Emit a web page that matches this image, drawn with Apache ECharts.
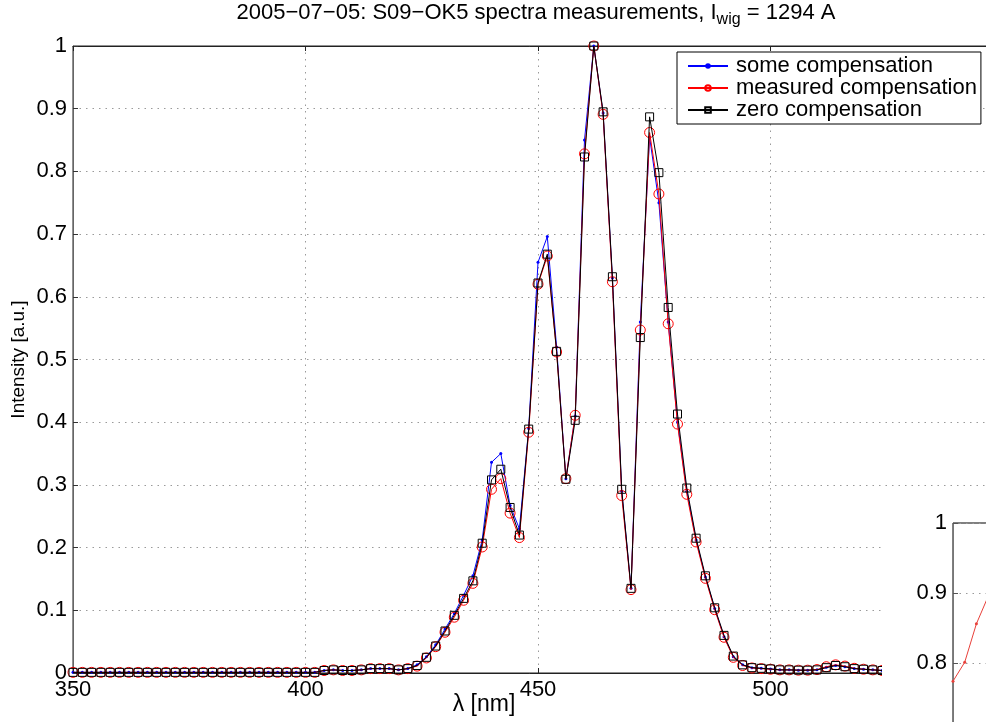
<!DOCTYPE html>
<html>
<head>
<meta charset="utf-8">
<script src="https://cdn.jsdelivr.net/npm/echarts@6/dist/echarts.min.js"></script>
<style>html,body{margin:0;padding:0;background:#fff}#c{width:986px;height:722px}</style>
</head>
<body>
<div id="c"></div>
<script>
const wavelengths = [350,352,354,356,358,360,362,364,366,368,370,372,374,376,378,380,382,384,386,388,390,392,394,396,398,400,402,
404,406,408,410,412,414,416,418,420,422,
424,426,428,430,432,434,436,438,440,442,
444,446,448,450,452,454,456,458,460,462,
464,466,468,470,472,474,476,478,480,482,
484,486,488,490,492,494,496,498,500,502,
504,506,508,510,512,514,516,518,520,522,524];

const someComp = [0.001,0.001,0.001,0.001,0.001,0.001,0.001,0.001,0.001,0.001,0.001,0.001,0.001,0.001,0.001,0.001,0.001,0.001,0.001,0.001,0.001,0.001,0.001,0.001,0.001,0.001,0.001,
0.004,0.005,0.004,0.004,0.005,0.007,0.007,0.007,0.005,0.007,
0.013,0.026,0.045,0.070,0.095,0.124,0.155,0.212,0.336,0.350,
0.267,0.230,0.390,0.655,0.696,0.520,0.310,0.410,0.850,1.000,
0.893,0.630,0.290,0.135,0.560,0.855,0.750,0.560,0.400,0.290,
0.212,0.153,0.103,0.058,0.026,0.013,0.0085,0.0075,0.0065,0.005,
0.005,0.0045,0.0045,0.005,0.009,0.012,0.010,0.007,0.006,0.005,0.004];

const measuredComp = [0.001,0.001,0.001,0.001,0.001,0.001,0.001,0.001,0.001,0.001,0.001,0.001,0.001,0.001,0.001,0.001,0.001,0.001,0.001,0.001,0.001,0.001,0.001,0.001,0.001,0.001,0.001,
0.004,0.005,0.004,0.004,0.005,0.007,0.007,0.007,0.005,0.007,
0.011,0.024,0.042,0.065,0.089,0.116,0.143,0.201,0.293,0.310,
0.255,0.216,0.384,0.620,0.665,0.512,0.310,0.411,0.828,1.000,
0.891,0.624,0.283,0.133,0.547,0.862,0.764,0.557,0.397,0.285,
0.209,0.151,0.101,0.057,0.025,0.012,0.008,0.007,0.006,0.005,
0.005,0.0045,0.0045,0.0055,0.010,0.013,0.011,0.0075,0.006,0.005,0.004];

const zeroComp = [0.001,0.001,0.001,0.001,0.001,0.001,0.001,0.001,0.001,0.001,0.001,0.001,0.001,0.001,0.001,0.001,0.001,0.001,0.001,0.001,0.001,0.001,0.001,0.001,0.001,0.001,0.001,
0.004,0.005,0.004,0.004,0.005,0.007,0.007,0.007,0.005,0.007,
0.012,0.025,0.043,0.067,0.092,0.119,0.147,0.207,0.308,0.325,
0.264,0.220,0.389,0.622,0.668,0.513,0.309,0.403,0.823,1.000,
0.895,0.632,0.293,0.135,0.535,0.887,0.798,0.583,0.413,0.295,
0.215,0.155,0.104,0.060,0.027,0.013,0.0085,0.0075,0.0065,0.005,
0.005,0.0045,0.0045,0.005,0.0085,0.012,0.010,0.007,0.006,0.005,0.004];

const seriesNames = ['some compensation','measured compensation','zero compensation'];
const xTicks = [350,400,450,500,550];
const yTicks = [0,0.1,0.2,0.3,0.4,0.5,0.6,0.7,0.8,0.9,1];

const insetX = [0,1,2,3];
const insetY = [0.774,0.801,0.856,0.895];
const insetTicks = [0.6,0.7,0.8,0.9,1];

const FONT = 'Liberation Sans, Arial, Helvetica, sans-serif';
const pairs = arr => wavelengths.map((w,i)=>[w,arr[i]]);
const gridDot = {show:true, lineStyle:{color:'#9a9a9a', type:[1.5,5], width:1}};
const fmt = v => String(Math.round(v*10)/10);

const chart = echarts.init(document.getElementById('c'), null, {renderer:'canvas'});
chart.setOption({
  animation:false,
  backgroundColor:'#fff',
  grid:[
    {left:73, top:46, width:930, height:627, show:true, borderColor:'#222', borderWidth:1,
      backgroundColor:'transparent', containLabel:false, outerBoundsMode:'none'},
    {left:953, top:523, width:117, height:280, show:true, borderColor:'#000', borderWidth:1, z:20,
      backgroundColor:'#fff', containLabel:false, outerBoundsMode:'none'}
  ],
  legend:{
    data:seriesNames, orient:'vertical', left:677, top:52,
    backgroundColor:'#fff', borderColor:'#000', borderWidth:1, borderRadius:0,
    padding:[3,4,3,10], itemWidth:40, itemHeight:7, itemGap:0,
    textStyle:{fontFamily:FONT, fontSize:22, lineHeight:21.5, color:'#000', padding:[0,0,0,3]}, z:15
  },
  xAxis:[
    {type:'value', gridIndex:0, min:xTicks[0], max:xTicks[xTicks.length-1], interval:50, position:'bottom',
      axisLine:{show:true, onZero:false, lineStyle:{color:'#222'}},
      axisTick:{show:true, inside:true, length:5, lineStyle:{color:'#222'}},
      axisLabel:{show:true, fontFamily:FONT, fontSize:22, color:'#000', margin:6},
      splitLine:gridDot},
    {type:'value', gridIndex:0, min:xTicks[0], max:xTicks[xTicks.length-1], interval:50, position:'top',
      axisLine:{show:true, onZero:false, lineStyle:{color:'#222'}},
      axisTick:{show:true, inside:true, length:5, lineStyle:{color:'#222'}},
      axisLabel:{show:false}, splitLine:{show:false}},
    {type:'value', gridIndex:1, min:0, max:10, show:false, z:20}
  ],
  yAxis:[
    {type:'value', gridIndex:0, min:0, max:1, interval:0.1,
      axisLine:{show:true, onZero:false, lineStyle:{color:'#666'}},
      axisTick:{show:true, inside:true, length:5, lineStyle:{color:'#333'}},
      axisLabel:{show:true, fontFamily:FONT, fontSize:22, color:'#000', margin:6, formatter:fmt},
      splitLine:gridDot,
      name:'Intensity [a.u.]', nameLocation:'middle', nameGap:45, nameRotate:90, nameMoveOverlap:false,
      nameTextStyle:{fontFamily:FONT, fontSize:19, color:'#000'}},
    {type:'value', gridIndex:1, min:0.6, max:1, interval:0.1, z:21,
      axisLine:{show:true, onZero:false, lineStyle:{color:'#777'}},
      axisTick:{show:true, inside:true, length:5, lineStyle:{color:'#555'}},
      axisLabel:{show:true, fontFamily:FONT, fontSize:22, color:'#000', margin:6, formatter:fmt},
      splitLine:gridDot}
  ],
  graphic:[
    {type:'rect', z:10, shape:{x:882, y:505, width:104, height:217}, style:{fill:'#fff'}},
    {type:'text', z:30, x:536, y:13, style:{
      text:'2005−07−05: S09−OK5 spectra measurements, I{sub|wig} = 1294 A',
      fontFamily:FONT, fontSize:22, fill:'#000', align:'center', verticalAlign:'middle',
      rich:{sub:{fontFamily:FONT, fontSize:16, fill:'#000', padding:[14,0,0,0]}}}},
    {type:'text', z:30, x:484, y:705, style:{text:'λ [nm]', fontFamily:FONT, fontSize:23, fill:'#000', align:'center', verticalAlign:'middle'}}
  ],
  series:[
    {name:seriesNames[0], type:'line', xAxisIndex:0, yAxisIndex:0, data:pairs(someComp),
      symbol:'circle', symbolSize:3, lineStyle:{color:'#0000ff', width:1}, itemStyle:{color:'#0000ff'}, z:2},
    {name:seriesNames[1], type:'line', xAxisIndex:0, yAxisIndex:0, data:pairs(measuredComp),
      symbol:'circle', symbolSize:10, lineStyle:{color:'#ff0000', width:1},
      itemStyle:{color:'rgba(0,0,0,0)', borderColor:'#ff0000', borderWidth:1}, z:3},
    {name:seriesNames[2], type:'line', xAxisIndex:0, yAxisIndex:0, data:pairs(zeroComp),
      symbol:'rect', symbolSize:8, lineStyle:{color:'#000000', width:1},
      itemStyle:{color:'rgba(0,0,0,0)', borderColor:'#000000', borderWidth:1}, z:4},
    {name:'inset', type:'line', xAxisIndex:2, yAxisIndex:1, data:insetX.map((x,i)=>[x,insetY[i]]),
      symbol:'circle', symbolSize:3, lineStyle:{color:'#e8403a', width:1}, itemStyle:{color:'#e8403a'}, z:22}
  ]
});
</script>
</body>
</html>
